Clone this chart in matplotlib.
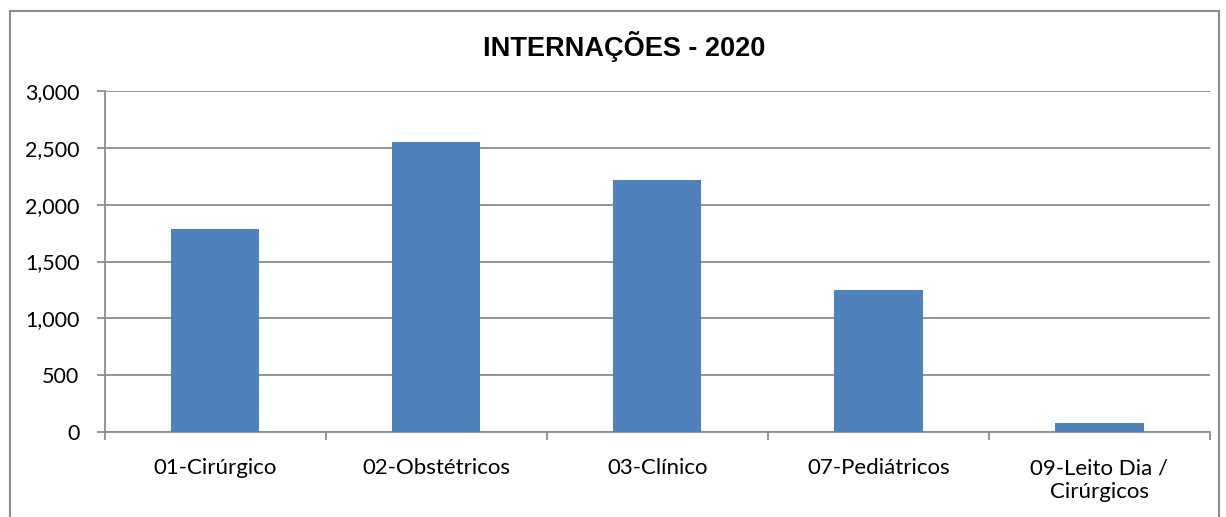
import numpy as np
import matplotlib.pyplot as plt
from matplotlib.patches import Rectangle

categories = ['01-Cirúrgico', '02-Obstétricos', '03-Clínico', '07-Pediátricos', '09-Leito Dia /\nCirúrgicos']
values = [1785, 2550, 2220, 1248, 80]
yticks = [0, 500, 1000, 1500, 2000, 2500, 3000]

fig = plt.figure(figsize=(12.26, 5.17), dpi=100)
W, H = 1226, 517
ax = fig.add_axes([104.5 / W, 1 - 432 / H, (1210 - 104.5) / W, (432 - 91) / H])

# chart border (Excel style)
fig.patches.append(Rectangle((10 / W, -0.1), (1219 - 10) / W, 1.1 - 11 / H,
                             transform=fig.transFigure, fill=False,
                             edgecolor='#8c8c8c', linewidth=1.5))

x = np.arange(len(categories))
ax.bar(x, values, width=0.4, color='#4f81bd', zorder=3)

ax.set_xlim(-0.5, len(categories) - 0.5)
ax.set_ylim(0, 3000)
ax.set_yticks(yticks)
ax.set_yticklabels([f'{v:,}' for v in yticks], fontsize=15.5, family='Lato')
ax.grid(axis='y', color='#8c8c8c', linewidth=1.3, zorder=0)

ax.set_xticks(x)
ax.set_xticklabels(categories, fontsize=16, family='Lato', linespacing=1.25)
ax.tick_params(axis='x', length=0, pad=19)
ax.set_xticks(np.arange(-0.5, len(categories)), minor=True)
ax.tick_params(axis='x', which='minor', length=6, color='#8c8c8c', width=1.3)
ax.tick_params(axis='y', length=6, color='#8c8c8c', width=1.3, pad=12)

for s in ['top', 'right']:
    ax.spines[s].set_visible(False)
for s in ['left', 'bottom']:
    ax.spines[s].set_color('#8c8c8c')
    ax.spines[s].set_linewidth(1.3)

fig.text(624 / W, 1 - 46 / H, 'INTERNAÇÕES - 2020', ha='center', va='center',
         fontsize=19.5, fontweight='bold', family='Liberation Sans')

fig.savefig('out.png', dpi=100)
